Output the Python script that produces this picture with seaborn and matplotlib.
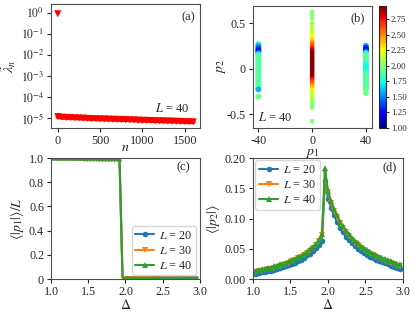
import numpy as np
import pandas as pd
import matplotlib
matplotlib.use("Agg")
import matplotlib.pyplot as plt
import seaborn as sns

# ---------------- data ----------------
# (a) averaged spectrum, L = 40
spec_n = [0, 1, 50, 100, 150, 200, 250, 300, 350, 400, 450, 500, 550, 600, 650, 700,
          750, 800, 850, 900, 950, 1000, 1050, 1100, 1150, 1200, 1250, 1300, 1350,
          1400, 1450, 1500, 1550, 1600]
spec_val = [0.9, 1.15e-5, 1.08e-5, 1.05e-5, 1.03e-5, 1.01e-5, 9.9e-6, 9.7e-6, 9.5e-6,
            9.3e-6, 9.2e-6, 9.0e-6, 8.9e-6, 8.7e-6, 8.6e-6, 8.5e-6, 8.3e-6, 8.2e-6,
            8.1e-6, 8.0e-6, 7.8e-6, 7.7e-6, 7.6e-6, 7.5e-6, 7.4e-6, 7.3e-6, 7.2e-6,
            7.1e-6, 7.0e-6, 6.9e-6, 6.8e-6, 6.7e-6, 6.6e-6, 6.5e-6]

# (b) momentum distribution, three clusters
mid_p2 = [0.62, 0.59, 0.55, 0.50, 0.47, 0.45, 0.43, 0.41, 0.39, 0.37, 0.35, 0.33, 0.31,
          0.29, 0.27, 0.25, 0.23, 0.21, 0.19, 0.17, 0.15, 0.13, 0.11, 0.09, 0.07, 0.05,
          0.03, 0.01, -0.01, -0.03, -0.05, -0.07, -0.09, -0.11, -0.13, -0.15, -0.17,
          -0.19, -0.21, -0.23, -0.25, -0.27, -0.29, -0.31, -0.33, -0.35, -0.37, -0.39,
          -0.41, -0.43, -0.58]
mid_c = [2.0, 2.0, 2.02, 2.05, 2.08, 2.1, 2.12, 2.15, 2.18, 2.2, 2.25, 2.3, 2.35,
         2.45, 2.55, 2.62, 2.7, 2.8, 2.9, 2.93, 2.94, 2.95, 2.95, 2.95, 2.95, 2.95,
         2.95, 2.95, 2.95, 2.95, 2.94, 2.93, 2.9, 2.8, 2.7, 2.62, 2.55, 2.45,
         2.38, 2.3, 2.25, 2.2, 2.15, 2.12, 2.1, 2.08, 2.05, 2.02,
         2.0, 2.0, 2.0]
left_p2 = [0.27, 0.25, 0.23, 0.21, 0.19, 0.17, 0.15, 0.13, 0.11, 0.09, 0.07, 0.05, 0.03,
           0.01, -0.01, -0.03, -0.05, -0.07, -0.09, -0.11, -0.13, -0.15, -0.17, -0.19,
           -0.21, -0.23, -0.31]
left_c = [1.8, 1.6, 1.45, 1.3, 1.2, 1.55, 1.8, 1.9, 1.9, 1.9, 1.9, 1.88, 1.9,
          1.9, 1.9, 1.88, 1.9, 1.9, 1.9, 1.9, 1.9, 1.88, 1.9, 1.9,
          1.88, 1.6, 1.95]
right_p2 = [0.25, 0.23, 0.21, 0.19, 0.17, 0.15, 0.13, 0.11, 0.09, 0.07, 0.05, 0.03, 0.01,
            -0.01, -0.03, -0.05, -0.07, -0.09, -0.11, -0.13, -0.15, -0.17, -0.19, -0.21,
            -0.23, -0.27]
right_c = [1.6, 1.35, 1.2, 1.4, 1.75, 1.9, 1.9, 1.9, 1.9, 1.88, 1.8, 1.75, 1.72,
           1.72, 1.78, 1.82, 1.88, 1.9, 1.9, 1.9, 1.9, 1.9, 1.9, 1.9,
           1.92, 1.95]
cluster_p1 = [-40, 0, 40]

# (c), (d) order parameters vs Delta
delta = [1.00, 1.04, 1.08, 1.12, 1.16, 1.20, 1.24, 1.28, 1.32, 1.36, 1.40, 1.44, 1.48,
         1.52, 1.56, 1.60, 1.64, 1.68, 1.72, 1.76, 1.80, 1.84, 1.88, 1.92, 1.96, 2.00,
         2.04, 2.08, 2.12, 2.16, 2.20, 2.24, 2.28, 2.32, 2.36, 2.40, 2.44, 2.48, 2.52,
         2.56, 2.60, 2.64, 2.68, 2.72, 2.76, 2.80, 2.84, 2.88, 2.92, 2.96]
sizes = [20, 30, 40]

p1_L20 = [0.990, 0.990, 0.990, 0.989, 0.989, 0.989, 0.989, 0.988, 0.988, 0.988, 0.988,
          0.987, 0.987, 0.987, 0.987, 0.986, 0.986, 0.986, 0.986, 0.985, 0.985, 0.985,
          0.985, 0.984, 0.016, 0.016, 0.016, 0.016, 0.016, 0.015, 0.015, 0.015, 0.015,
          0.015, 0.015, 0.015, 0.015, 0.014, 0.014, 0.014, 0.014, 0.014, 0.014, 0.014,
          0.014, 0.014, 0.013, 0.013, 0.013, 0.013]
p1_L30 = [0.990, 0.990, 0.990, 0.990, 0.989, 0.989, 0.989, 0.989, 0.988, 0.988, 0.988,
          0.988, 0.988, 0.987, 0.987, 0.987, 0.987, 0.987, 0.986, 0.986, 0.986, 0.986,
          0.985, 0.985, 0.014, 0.014, 0.014, 0.014, 0.013, 0.013, 0.013, 0.013, 0.013,
          0.013, 0.013, 0.012, 0.012, 0.012, 0.012, 0.012, 0.012, 0.012, 0.012, 0.011,
          0.011, 0.011, 0.011, 0.011, 0.011, 0.011]
p1_L40 = [0.991, 0.991, 0.990, 0.990, 0.990, 0.990, 0.989, 0.989, 0.989, 0.989, 0.989,
          0.988, 0.988, 0.988, 0.988, 0.988, 0.987, 0.987, 0.987, 0.987, 0.987, 0.986,
          0.986, 0.986, 0.010, 0.010, 0.010, 0.010, 0.010, 0.009, 0.009, 0.009, 0.009,
          0.009, 0.009, 0.009, 0.009, 0.008, 0.008, 0.008, 0.008, 0.008, 0.008, 0.008,
          0.008, 0.008, 0.008, 0.008, 0.008, 0.008]

p2_L20 = [0.008, 0.009, 0.010, 0.011, 0.012, 0.013, 0.014, 0.015, 0.017, 0.018, 0.020,
          0.021, 0.023, 0.025, 0.027, 0.030, 0.032, 0.035, 0.039, 0.042, 0.046, 0.051,
          0.056, 0.063, 0.162, 0.133, 0.118, 0.105, 0.094, 0.085, 0.077, 0.070, 0.064,
          0.059, 0.054, 0.050, 0.046, 0.043, 0.040, 0.037, 0.034, 0.032, 0.030, 0.028,
          0.026, 0.024, 0.022, 0.020, 0.018, 0.016]
p2_L30 = [0.011, 0.012, 0.013, 0.014, 0.015, 0.016, 0.017, 0.019, 0.020, 0.022, 0.023,
          0.025, 0.027, 0.029, 0.031, 0.034, 0.036, 0.039, 0.043, 0.047, 0.051, 0.056,
          0.062, 0.073, 0.175, 0.143, 0.126, 0.113, 0.102, 0.092, 0.084, 0.077, 0.071,
          0.065, 0.060, 0.056, 0.052, 0.048, 0.045, 0.042, 0.039, 0.037, 0.034, 0.032,
          0.030, 0.028, 0.026, 0.024, 0.022, 0.021]
p2_L40 = [0.013, 0.014, 0.015, 0.016, 0.017, 0.018, 0.019, 0.021, 0.022, 0.024, 0.025,
          0.027, 0.029, 0.031, 0.033, 0.036, 0.038, 0.041, 0.045, 0.049, 0.053, 0.058,
          0.064, 0.075, 0.183, 0.146, 0.129, 0.116, 0.105, 0.095, 0.087, 0.080, 0.074,
          0.068, 0.063, 0.059, 0.055, 0.051, 0.048, 0.045, 0.042, 0.040, 0.037, 0.035,
          0.033, 0.031, 0.029, 0.027, 0.025, 0.024]

# ---------------- style ----------------
sns.set_style("ticks")
plt.rcParams["font.family"] = ["Liberation Serif", "DejaVu Serif"]
plt.rcParams["mathtext.fontset"] = "stix"
plt.rcParams["axes.unicode_minus"] = False
plt.rcParams["font.size"] = 9
plt.rcParams["xtick.labelsize"] = 8.7
plt.rcParams["ytick.labelsize"] = 8.7
plt.rcParams["axes.labelsize"] = 10
plt.rcParams["xtick.major.size"] = 3
plt.rcParams["ytick.major.size"] = 3
plt.rcParams["xtick.major.pad"] = 2
plt.rcParams["ytick.major.pad"] = 2

fig = plt.figure(figsize=(4.15, 3.13), dpi=100)
ax_a = fig.add_axes([0.1229, 0.591, 0.359, 0.396])
ax_b = fig.add_axes([0.6096, 0.591, 0.2867, 0.3898])
cax = fig.add_axes([0.9133, 0.591, 0.0169, 0.3898])
ax_c = fig.add_axes([0.1229, 0.1086, 0.359, 0.3866])
ax_d = fig.add_axes([0.6096, 0.1086, 0.3614, 0.3866])

# (a): the dense band of eigenvalues is drawn as thick line + markers
sns.lineplot(x=spec_n[1:], y=spec_val[1:], color="red", lw=3.5, ax=ax_a)
sns.scatterplot(x=spec_n, y=spec_val, marker="v", color="red", s=26,
                edgecolor="none", ax=ax_a)
ax_a.set_yscale("log")
ax_a.set_ylim(3.3e-6, 2.6)
ax_a.set_yticks([1e0, 1e-1, 1e-2, 1e-3, 1e-4, 1e-5])
ax_a.set_yticklabels([r"$10^{0}$", r"$10^{-1}$", r"$10^{-2}$", r"$10^{-3}$",
                      r"$10^{-4}$", r"$10^{-5}$"], fontsize=8.5)
ax_a.minorticks_off()
ax_a.set_xticks([0, 500, 1000, 1500])
ax_a.set_xlabel(r"$n$", labelpad=-4)
ax_a.set_ylabel(r"$\tilde{\lambda}_n$", labelpad=2)
ax_a.text(0.92, 0.895, "(a)", transform=ax_a.transAxes, ha="center", va="center")
ax_a.text(0.81, 0.16, r"$L$ = 40", transform=ax_a.transAxes, ha="center", va="center")

# (b)
jet = matplotlib.colormaps["jet"]
norm = (1.0, 2.96)
clusters = [(cluster_p1[0], left_p2, left_c, 18),
            (cluster_p1[2], right_p2, right_c, 18),
            (cluster_p1[1], mid_p2, mid_c, 11)]
for p1, p2, cval, sz in clusters:
    sns.scatterplot(x=[p1] * len(p2), y=p2, hue=cval, palette=jet, hue_norm=norm,
                    s=sz, edgecolor="none", legend=False, ax=ax_b)
ax_b.set_xlim(-44, 44.5)
ax_b.set_ylim(-0.654, 0.687)
ax_b.set_xticks([-40, 0, 40])
ax_b.set_yticks([-0.5, 0, 0.5])
ax_b.set_yticklabels(["-0.5", "0", "0.5"])
ax_b.set_xlabel(r"$p_1$", labelpad=0)
ax_b.set_ylabel(r"$p_2$", labelpad=-1)
ax_b.text(0.88, 0.9, "(b)", transform=ax_b.transAxes, ha="center", va="center")
ax_b.text(0.19, 0.09, r"$L$ = 40", transform=ax_b.transAxes, ha="center", va="center")
sm = plt.cm.ScalarMappable(cmap=jet, norm=plt.Normalize(*norm))
cb = fig.colorbar(sm, cax=cax, ticks=[1.0, 1.25, 1.5, 1.75, 2.0, 2.25, 2.5, 2.75])
cb.ax.set_yticklabels(["1.00", "1.25", "1.50", "1.75", "2.00", "2.25", "2.50", "2.75"])
cb.ax.tick_params(labelsize=6.3, length=2, pad=1.5)
cb.outline.set_linewidth(0.8)

# (c), (d)
colors = sns.color_palette("tab10", 3)
markers = ["o", "v", "^"]
for L, vals, col, mk in zip(sizes, [p1_L20, p1_L30, p1_L40], colors, markers):
    sns.lineplot(x=delta, y=vals, color=col, marker=mk, markersize=1.6,
                 markeredgewidth=0, lw=1.5, label=rf"$L$ = {L}", ax=ax_c)
for L, vals, col, mk in zip(sizes, [p2_L20, p2_L30, p2_L40], colors, markers):
    sns.lineplot(x=delta, y=vals, color=col, marker=mk, markersize=4,
                 markeredgewidth=0, lw=1.5, label=rf"$L$ = {L}", ax=ax_d)

leg_kw = dict(fontsize=8.7, handlelength=1.6, handletextpad=0.4, labelspacing=0.25,
              borderpad=0.3)
ax_c.set_xlim(1.0, 3.0)
ax_c.set_ylim(0, 1.0)
ax_c.set_xticks([1.0, 1.5, 2.0, 2.5, 3.0])
ax_c.set_yticks([0, 0.2, 0.4, 0.6, 0.8, 1.0])
ax_c.set_yticklabels(["0", "0.2", "0.4", "0.6", "0.8", "1.0"])
ax_c.set_xlabel(r"$\Delta$", labelpad=0)
ax_c.set_ylabel(r"$\langle|p_1|\rangle/L$", labelpad=2)
ax_c.text(0.886, 0.92, "(c)", transform=ax_c.transAxes, ha="center", va="center")
ax_c.legend(loc="lower right", markerscale=2.5, borderaxespad=0.3, **leg_kw)

ax_d.set_xlim(1.0, 3.0)
ax_d.set_ylim(0, 0.20)
ax_d.set_xticks([1.0, 1.5, 2.0, 2.5, 3.0])
ax_d.set_yticks([0, 0.05, 0.10, 0.15, 0.20])
ax_d.set_yticklabels(["0.00", "0.05", "0.10", "0.15", "0.20"])
ax_d.set_xlabel(r"$\Delta$", labelpad=0)
ax_d.set_ylabel(r"$\langle|p_2|\rangle$", labelpad=2)
ax_d.text(0.91, 0.92, "(d)", transform=ax_d.transAxes, ha="center", va="center")
ax_d.legend(loc="upper left", borderaxespad=0.2, **leg_kw)

for ax in [ax_a, ax_b, ax_c, ax_d]:
    for sp in ax.spines.values():
        sp.set_linewidth(0.8)
        sp.set_color("0.3")

fig.savefig("out.png", dpi=100)
